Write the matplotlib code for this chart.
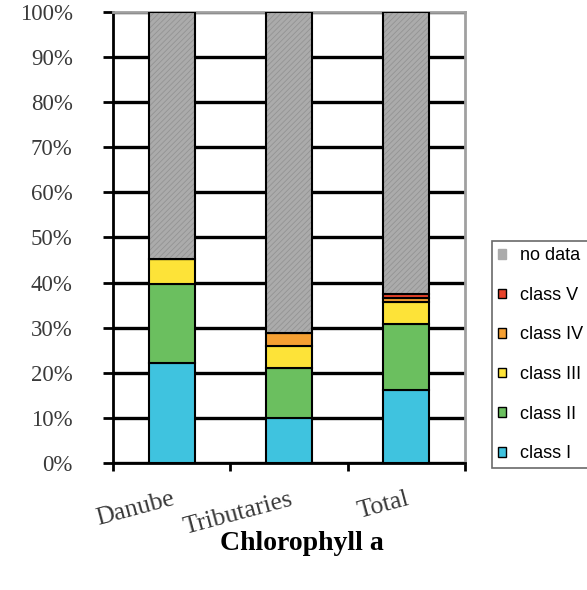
import matplotlib

matplotlib.use("Agg")
import matplotlib.pyplot as plt
import numpy as np
from matplotlib.patches import Patch

categories = ["Danube", "Tributaries", "Total"]
class_i = [22.3, 10.0, 16.2]
class_ii = [17.5, 11.0, 14.6]
class_iii = [5.4, 5.0, 5.0]
class_iv = [0.0, 2.9, 0.9]
class_v = [0.0, 0.0, 0.8]
no_data = [54.8, 71.1, 62.5]
y_ticks = [0, 10, 20, 30, 40, 50, 60, 70, 80, 90, 100]

series = [
    ("class I", class_i, "#3FC3DF"),
    ("class II", class_ii, "#6BBF5F"),
    ("class III", class_iii, "#FDE338"),
    ("class IV", class_iv, "#F5A033"),
    ("class V", class_v, "#E8432B"),
]

plt.rcParams["hatch.linewidth"] = 0.6

fig = plt.figure(figsize=(5.87, 5.90), dpi=100)
ax = fig.add_axes([113 / 587, 1 - 463.3 / 590, 352 / 587, 451.6 / 590])

x = np.arange(len(categories))
width = 0.39
bottom = np.zeros(len(categories))
for label, vals, color in series:
    ax.bar(x, vals, width, bottom=bottom, color=color, edgecolor="black",
           linewidth=1.5, zorder=3)
    bottom += np.array(vals)

# gray "no data" segment with a fine texture
ax.bar(x, no_data, width, bottom=bottom, color="#ABABAB", edgecolor="#939393",
       hatch="//////", linewidth=0, zorder=3)
ax.bar(x, no_data, width, bottom=bottom, fill=False, edgecolor="black",
       linewidth=1.5, zorder=4)

ax.set_xlim(-0.5, 2.5)
ax.set_ylim(0, 100)
ax.set_yticks(y_ticks)
ax.set_yticklabels([f"{t}%" for t in y_ticks], family="Liberation Serif",
                   fontsize=16.5, color="#3a3a3a")
ax.tick_params(axis="y", direction="out", length=7, width=2, pad=22)
ax.yaxis.grid(True, color="black", linewidth=2.4, zorder=0)

ax.set_xticks(x)
ax.set_xticklabels(categories, rotation=15, ha="right",
                   rotation_mode="anchor", family="Liberation Serif",
                   fontsize=18.5, color="#3a3a3a")
ax.tick_params(axis="x", which="major", length=0, pad=18)
ax.set_xticks([-0.5, 0.5, 1.5, 2.5], minor=True)
ax.tick_params(axis="x", which="minor", direction="out", length=6, width=2)

ax.spines["left"].set_linewidth(2)
ax.spines["bottom"].set_linewidth(2)
for side in ("top", "right"):
    ax.spines[side].set_color("#A0A0A0")
    ax.spines[side].set_linewidth(2)

handles = [Patch(facecolor="#ABABAB", edgecolor="#ABABAB", label="no data")]
for label, vals, color in reversed(series):
    handles.append(Patch(facecolor=color, edgecolor="black", linewidth=1, label=label))

leg = fig.legend(handles=handles, loc="upper left",
                 bbox_to_anchor=(492 / 587, 1 - 241 / 590), borderaxespad=0,
                 fancybox=False, frameon=True, edgecolor="#444444",
                 prop={"family": "Liberation Sans", "size": 13},
                 handlelength=0.45, handleheight=0.45, handletextpad=0.75,
                 labelspacing=1.25, borderpad=0.35)
leg.get_frame().set_linewidth(1.2)

fig.text(302 / 587, 1 - 543 / 590, "Chlorophyll a", ha="center", va="center",
         family="Liberation Serif", fontweight="bold", fontsize=20)

fig.savefig("out.png", dpi=100)
